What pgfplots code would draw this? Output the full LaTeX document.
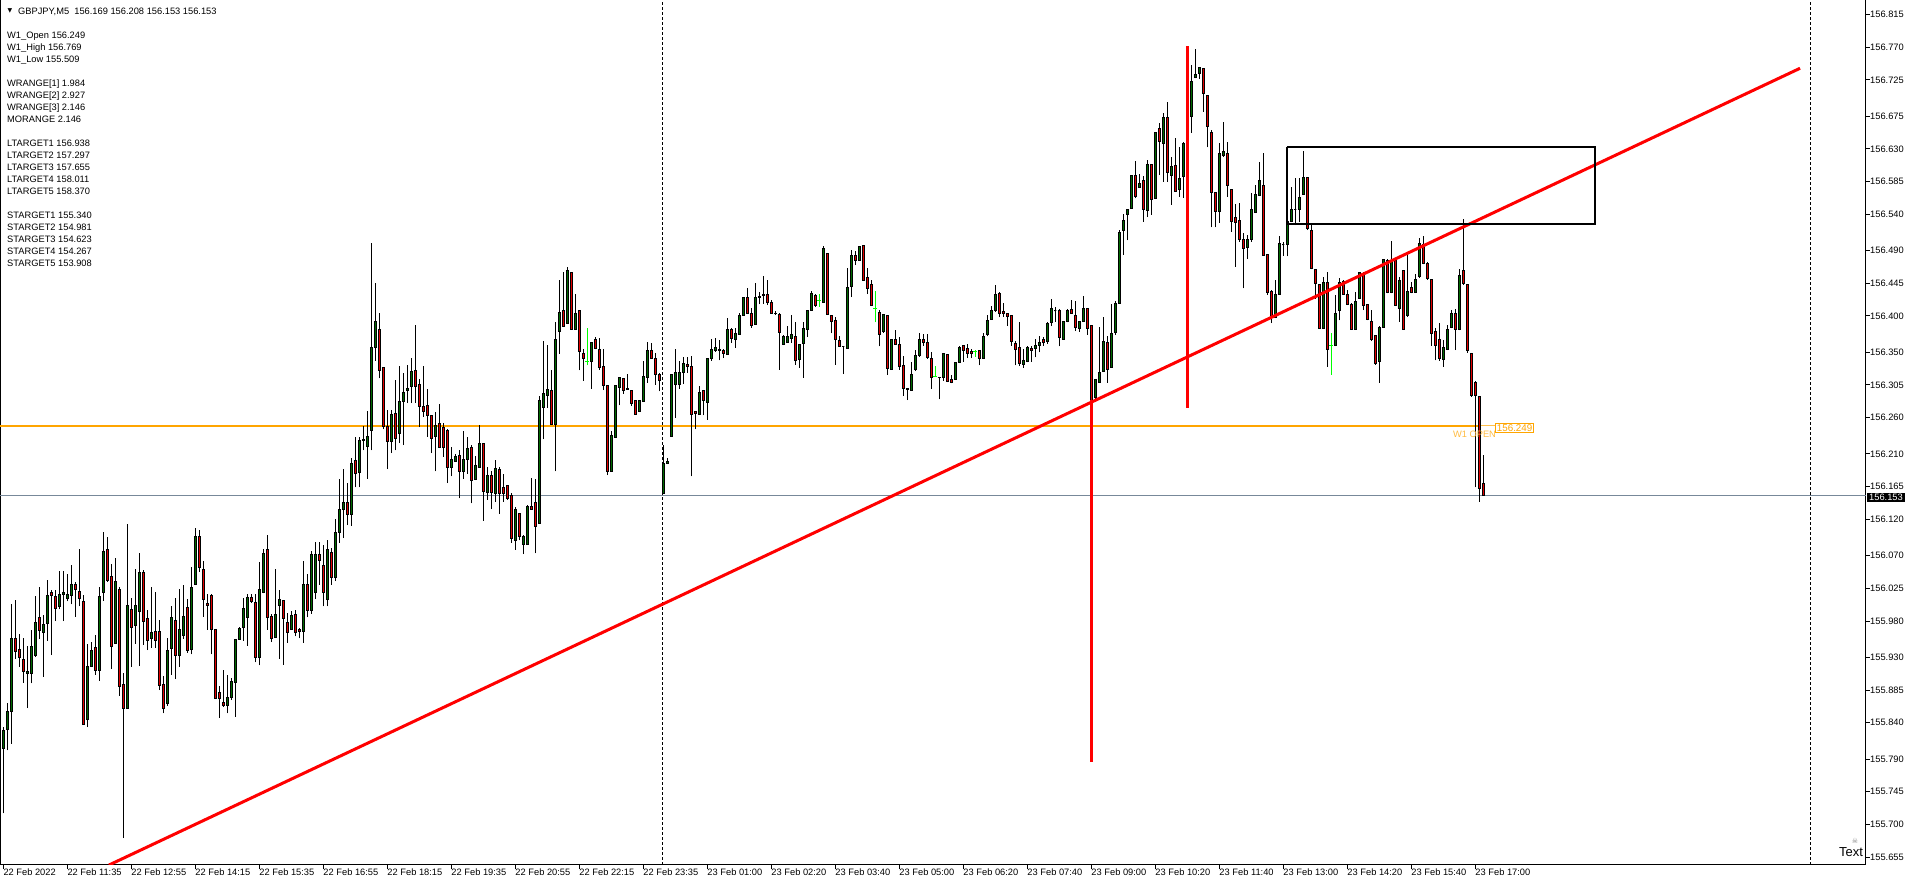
\documentclass[border=0pt]{standalone}
\usepackage{fontspec}
\setmainfont{Liberation Sans}
\newfontfamily\dejavu{DejaVu Sans}
\usepackage{pgfplots}
\usepackage{pgfplotstable}
\pgfplotsset{compat=1.18}
\definecolor{bull}{RGB}{0,105,0}
\definecolor{bear}{RGB}{225,0,0}
\definecolor{limeg}{RGB}{0,255,0}
\definecolor{wopen}{RGB}{255,165,0}
\definecolor{cur}{RGB}{119,136,153}
\newcommand\mtfont{\fontsize{9.3}{11}\selectfont}
% GBPJPY M5 candles: open high low close type (1 up, 0 down, 2 flat lime)
\pgfplotstableread{
O H L C t
155.805 155.834 155.715 155.829 1
155.831 155.867 155.802 155.856 1
155.856 156.004 155.811 155.956 1
155.956 156.009 155.928 155.938 0
155.941 155.962 155.917 155.930 0
155.927 155.956 155.895 155.910 0
155.908 155.945 155.860 155.910 1
155.908 155.968 155.894 155.945 1
155.933 156.014 155.931 155.978 1
155.985 156.027 155.955 155.967 0
155.964 155.988 155.903 155.975 1
155.977 156.037 155.953 156.015 1
156.020 156.023 155.933 156.015 0
156.014 156.023 155.980 155.997 0
156.000 156.049 155.996 156.016 1
156.016 156.049 155.980 156.019 1
156.011 156.045 156.007 156.017 1
156.015 156.057 156.003 156.030 1
156.030 156.034 155.986 156.024 0
156.021 156.079 156.000 156.011 0
156.007 156.016 155.838 155.838 0
155.844 155.948 155.834 155.918 1
155.918 155.951 155.918 155.940 1
155.944 155.961 155.906 155.912 0
155.912 156.027 155.898 156.014 1
156.019 156.102 156.008 156.076 1
156.078 156.096 156.034 156.036 0
156.042 156.059 155.914 155.945 0
155.949 156.067 155.949 156.035 1
156.024 156.027 155.877 155.890 0
155.893 155.908 155.681 155.860 0
155.860 156.113 155.860 156.001 1
155.996 156.011 155.917 155.971 0
155.974 156.051 155.949 156.002 1
155.993 156.073 155.918 156.047 1
156.047 156.050 155.947 155.979 0
155.983 155.995 155.940 155.953 0
155.956 156.027 155.943 155.964 1
155.966 156.020 155.943 155.953 0
155.966 155.981 155.885 155.891 0
155.893 155.904 155.853 155.860 0
155.867 155.956 155.863 155.940 1
155.942 156.000 155.906 155.985 1
155.981 156.012 155.900 155.933 0
155.933 156.024 155.917 155.968 1
155.960 156.030 155.955 155.986 1
155.999 156.010 155.936 155.940 0
155.941 156.055 155.934 156.026 1
156.030 156.108 156.030 156.097 1
156.097 156.105 156.048 156.054 0
156.051 156.062 155.986 156.010 0
156.004 156.017 155.968 156.002 0
156.015 156.017 155.934 155.968 0
155.968 155.968 155.873 155.874 0
155.882 155.890 155.847 155.874 0
155.868 155.912 155.862 155.864 0
155.864 155.906 155.853 155.875 1
155.875 155.901 155.871 155.897 1
155.896 155.955 155.848 155.955 1
155.955 155.972 155.954 155.970 1
155.971 156.011 155.953 155.997 1
155.985 156.017 155.946 156.013 1
156.013 156.017 156.005 156.007 0
156.006 156.017 155.923 155.930 0
155.930 156.061 155.919 156.023 1
156.020 156.079 156.018 156.073 1
156.079 156.098 155.968 155.985 0
155.986 155.989 155.951 155.956 0
155.958 156.051 155.958 155.989 1
156.001 156.023 155.928 156.010 1
156.009 156.009 155.920 155.984 0
155.978 155.991 155.950 155.964 0
155.968 155.994 155.968 155.987 1
155.989 155.995 155.959 155.964 0
155.968 155.970 155.956 155.965 0
155.965 156.063 155.950 156.030 1
156.030 156.045 155.985 155.995 0
155.995 156.077 155.990 156.072 1
156.020 156.089 156.010 156.072 1
156.072 156.089 156.030 156.064 0
156.057 156.085 156.000 156.020 0
156.010 156.091 156.000 156.079 1
156.075 156.080 156.030 156.040 0
156.040 156.121 156.035 156.102 1
156.102 156.176 156.088 156.134 1
156.134 156.189 156.094 156.143 1
156.143 156.170 156.112 156.127 0
156.127 156.204 156.111 156.197 1
156.201 156.234 156.164 156.183 0
156.185 156.234 156.164 156.229 1
156.228 156.248 156.215 156.230 1
156.221 156.269 156.176 156.234 1
156.242 156.500 156.215 156.357 1
156.357 156.445 156.338 156.393 1
156.382 156.404 156.314 156.325 0
156.329 156.330 156.244 156.248 0
156.248 156.270 156.189 156.227 0
156.227 156.271 156.211 156.264 1
156.266 156.312 156.215 156.231 0
156.238 156.331 156.225 156.282 1
156.282 156.322 156.222 156.295 1
156.298 156.332 156.280 156.300 1
156.303 156.342 156.280 156.324 1
156.325 156.388 156.280 156.303 0
156.306 156.313 156.247 156.276 0
156.276 156.331 156.261 156.268 0
156.277 156.299 156.234 156.263 0
156.263 156.264 156.211 156.231 0
156.234 156.268 156.186 156.249 1
156.252 156.279 156.218 156.219 0
156.247 156.253 156.206 156.219 0
156.243 156.244 156.170 156.192 0
156.191 156.220 156.179 156.202 1
156.199 156.210 156.199 156.207 1
156.208 156.215 156.149 156.186 0
156.186 156.242 156.176 156.203 1
156.202 156.234 156.183 156.218 1
156.219 156.222 156.142 156.173 0
156.175 156.207 156.174 156.194 1
156.192 156.250 156.192 156.225 1
156.225 156.225 156.118 156.158 0
156.157 156.192 156.147 156.180 1
156.180 156.186 156.134 156.157 0
156.156 156.202 156.144 156.190 1
156.189 156.192 156.128 156.156 0
156.164 156.183 156.144 156.156 0
156.167 156.167 156.147 156.149 0
156.153 156.156 156.088 156.094 0
156.091 156.137 156.078 156.134 1
156.128 156.128 156.091 156.096 0
156.086 156.098 156.072 156.097 1
156.086 156.140 156.085 156.138 1
156.138 156.177 156.133 156.134 0
156.143 156.176 156.073 156.110 0
156.114 156.290 156.114 156.284 1
156.274 156.365 156.230 156.293 1
156.290 156.360 156.273 156.299 1
156.298 156.326 156.250 156.250 0
156.250 156.392 156.186 156.368 1
156.378 156.449 156.348 156.405 1
156.407 156.461 156.385 156.385 0
156.390 156.468 156.390 156.462 1
156.460 156.460 156.381 156.382 0
156.382 156.430 156.381 156.404 1
156.408 156.408 156.325 156.351 0
156.349 156.355 156.311 156.341 0
156.337 156.383 156.332 156.337 2
156.338 156.364 156.300 156.364 1
156.367 156.371 156.354 156.355 0
156.354 156.369 156.326 156.329 0
156.330 156.355 156.298 156.304 0
156.305 156.305 156.181 156.186 0
156.186 156.242 156.186 156.235 1
156.233 156.305 156.233 156.305 1
156.301 156.316 156.277 156.315 1
156.314 156.314 156.293 156.297 0
156.300 156.320 156.299 156.299 0
156.298 156.298 156.276 156.280 0
156.283 156.284 156.264 156.265 0
156.268 156.284 156.268 156.283 1
156.282 156.338 156.282 156.317 1
156.316 156.364 156.308 156.353 1
156.352 156.363 156.342 156.342 0
156.342 156.349 156.305 156.320 0
156.320 156.322 156.296 156.311 0
156.156 156.223 156.156 156.197 1
156.197 156.205 156.196 156.199 1
156.234 156.319 156.234 156.319 1
156.306 156.354 156.260 156.322 1
156.306 156.338 156.300 156.322 1
156.322 156.343 156.306 156.334 1
156.333 156.344 156.322 156.330 0
156.331 156.345 156.179 156.265 0
156.269 156.269 156.244 156.266 0
156.265 156.303 156.265 156.295 1
156.298 156.298 156.263 156.284 0
156.281 156.342 156.257 156.342 1
156.341 156.368 156.338 156.354 1
156.352 156.369 156.351 156.357 1
156.354 156.367 156.339 156.353 0
156.352 156.354 156.342 156.349 0
156.347 156.397 156.347 156.382 1
156.382 156.384 156.363 156.369 0
156.368 156.384 156.356 156.376 1
156.375 156.404 156.375 156.400 1
156.401 156.426 156.401 156.426 1
156.425 156.439 156.403 156.404 0
156.404 156.411 156.384 156.387 0
156.388 156.446 156.388 156.426 1
156.426 156.433 156.416 156.427 1
156.430 156.455 156.417 156.428 0
156.430 156.450 156.415 156.418 0
156.419 156.422 156.404 156.404 0
156.404 156.407 156.401 156.403 0
156.402 156.404 156.326 156.377 0
156.361 156.374 156.360 156.372 1
156.363 156.386 156.363 156.372 1
156.369 156.401 156.363 156.375 1
156.372 156.392 156.333 156.339 0
156.340 156.361 156.329 156.361 1
156.362 156.391 156.315 156.383 1
156.382 156.407 156.371 156.407 1
156.407 156.434 156.407 156.431 1
156.428 156.430 156.413 156.414 0
156.421 156.430 156.413 156.421 2
156.418 156.496 156.418 156.493 1
156.486 156.486 156.402 156.402 0
156.401 156.401 156.376 156.393 0
156.394 156.398 156.333 156.368 0
156.366 156.372 156.358 156.358 0
156.358 156.358 156.320 156.358 1
156.355 156.466 156.355 156.439 1
156.440 156.491 156.426 156.483 1
156.483 156.490 156.470 156.476 0
156.477 156.496 156.477 156.496 1
156.497 156.497 156.449 156.449 0
156.453 156.466 156.430 156.438 0
156.444 156.449 156.414 156.414 0
156.410 156.434 156.391 156.410 2
156.405 156.408 156.358 156.375 0
156.378 156.402 156.377 156.402 1
156.401 156.401 156.319 156.328 0
156.327 156.368 156.326 156.368 1
156.367 156.381 156.361 156.361 0
156.361 156.371 156.326 156.330 0
156.332 156.345 156.290 156.300 0
156.300 156.300 156.284 156.299 0
156.298 156.337 156.297 156.320 1
156.326 156.353 156.324 156.345 1
156.345 156.376 156.344 156.368 1
156.368 156.375 156.359 156.364 0
156.364 156.375 156.341 156.343 0
156.342 156.351 156.300 156.316 0
156.316 156.331 156.316 156.316 2
156.316 156.316 156.285 156.315 0
156.315 156.349 156.311 156.349 1
156.347 156.347 156.309 156.310 0
156.313 156.319 156.307 156.309 0
156.313 156.336 156.312 156.336 1
156.336 156.358 156.335 156.357 1
156.359 156.360 156.337 156.352 0
156.355 156.361 156.342 156.348 0
156.351 156.355 156.342 156.348 0
156.351 156.353 156.344 156.351 2
156.352 156.352 156.332 156.342 0
156.342 156.376 156.342 156.372 1
156.374 156.401 156.372 156.394 1
156.395 156.414 156.395 156.408 1
156.407 156.443 156.406 156.430 1
156.431 156.433 156.398 156.404 0
156.406 156.418 156.399 156.404 0
156.404 156.404 156.386 156.399 0
156.400 156.400 156.359 156.365 0
156.362 156.365 156.332 156.354 0
156.357 156.391 156.331 156.335 0
156.333 156.355 156.329 156.339 1
156.337 156.358 156.336 156.357 1
156.355 156.358 156.337 156.352 0
156.355 156.368 156.343 156.360 1
156.359 156.372 156.350 156.364 1
156.368 156.371 156.359 156.364 0
156.365 156.391 156.362 156.390 1
156.391 156.424 156.386 156.410 1
156.407 156.413 156.392 156.407 1
156.407 156.409 156.358 156.371 0
156.368 156.393 156.368 156.393 1
156.392 156.410 156.391 156.408 1
156.409 156.422 156.403 156.404 0
156.401 156.420 156.379 156.384 0
156.383 156.393 156.378 156.393 1
156.393 156.427 156.393 156.410 1
156.410 156.410 156.374 156.383 0
156.387 156.387 156.275 156.282 0
156.288 156.312 156.286 156.312 1
156.309 156.385 156.309 156.322 1
156.323 156.398 156.323 156.365 1
156.364 156.372 156.308 156.326 0
156.329 156.417 156.329 156.376 1
156.377 156.420 156.374 156.417 1
156.417 156.518 156.417 156.515 1
156.518 156.541 156.484 156.531 1
156.540 156.547 156.504 156.546 1
156.548 156.594 156.548 156.594 1
156.594 156.614 156.562 156.564 0
156.577 156.596 156.576 156.583 1
156.586 156.592 156.530 156.546 0
156.545 156.615 156.536 156.608 1
156.608 156.608 156.539 156.560 0
156.562 156.653 156.562 156.653 1
156.658 156.665 156.594 156.640 0
156.638 156.680 156.585 156.673 1
156.673 156.695 156.585 156.597 0
156.594 156.619 156.553 156.606 1
156.607 156.645 156.571 156.571 0
156.574 156.633 156.564 156.589 1
156.592 156.639 156.563 156.637 1
156.644 156.700 156.625 156.675 1
156.675 156.745 156.652 156.723 1
156.728 156.768 156.727 156.733 1
156.734 156.742 156.726 156.742 1
156.741 156.741 156.681 156.706 0
156.704 156.704 156.632 156.661 0
156.652 156.656 156.522 156.570 0
156.570 156.570 156.522 156.544 0
156.544 156.638 156.528 156.624 1
156.621 156.667 156.619 156.627 1
156.624 156.640 156.564 156.580 0
156.574 156.574 156.516 156.530 0
156.536 156.554 156.468 156.529 0
156.531 156.555 156.502 156.506 0
156.505 156.514 156.438 156.493 0
156.494 156.511 156.479 156.505 1
156.505 156.569 156.502 156.546 1
156.543 156.580 156.543 156.567 1
156.566 156.612 156.565 156.587 1
156.579 156.624 156.483 156.483 0
156.485 156.485 156.429 156.433 0
156.434 156.436 156.390 156.399 0
156.398 156.450 156.397 156.430 1
156.429 156.510 156.429 156.500 1
156.498 156.502 156.483 156.498 1
156.498 156.530 156.482 156.530 1
156.530 156.578 156.529 156.546 1
156.547 156.590 156.525 156.547 1
156.546 156.590 156.529 156.563 1
156.567 156.627 156.567 156.590 1
156.590 156.590 156.518 156.521 0
156.518 156.525 156.464 156.466 0
156.464 156.464 156.424 156.445 0
156.444 156.444 156.383 156.383 0
156.383 156.454 156.383 156.446 1
156.446 156.461 156.330 156.354 0
156.360 156.377 156.319 156.360 2
156.360 156.429 156.359 156.404 1
156.408 156.452 156.394 156.446 1
156.447 156.450 156.429 156.430 0
156.430 156.436 156.415 156.416 0
156.416 156.418 156.381 156.382 0
156.382 156.433 156.381 156.420 1
156.424 156.461 156.423 156.460 1
156.459 156.460 156.408 156.414 0
156.416 156.417 156.394 156.395 0
156.393 156.408 156.365 156.367 0
156.373 156.373 156.333 156.335 0
156.338 156.386 156.308 156.384 1
156.384 156.479 156.384 156.478 1
156.477 156.479 156.431 156.432 0
156.432 156.503 156.431 156.477 1
156.476 156.478 156.415 156.415 0
156.411 156.454 156.392 156.449 1
156.462 156.463 156.381 156.382 0
156.400 156.484 156.399 156.434 1
156.439 156.447 156.431 156.433 0
156.433 156.458 156.432 156.450 1
156.455 156.508 156.452 156.500 1
156.498 156.510 156.471 156.472 0
156.472 156.474 156.450 156.452 0
156.450 156.450 156.359 156.376 0
156.378 156.383 156.339 156.359 0
156.368 156.390 156.338 156.342 0
156.340 156.367 156.330 156.356 1
156.354 156.388 156.353 156.382 1
156.384 156.408 156.383 156.404 1
156.403 156.409 156.353 156.382 0
156.382 156.464 156.380 156.456 1
156.463 156.534 156.443 156.445 0
156.444 156.444 156.349 156.352 0
156.349 156.349 156.289 156.290 0
156.308 156.310 156.164 156.290 0
156.289 156.289 156.144 156.163 0
156.169 156.208 156.153 156.153 0
}\candles
\pgfplotstablegetrowsof{\candles}
\pgfmathtruncatemacro\lastrow{\pgfplotsretval-1}

\begin{document}
\begin{tikzpicture}
\useasboundingbox (0pt,-20pt) rectangle (1912pt,865pt);
\begin{axis}[
  at={(0pt,0pt)}, anchor=south west,
  scale only axis, width=1866pt, height=865pt,
  xmin=-0.825, xmax=465.675, ymin=155.6441, ymax=156.835,
  axis line style={line width=1pt, black},
  tick align=outside, major tick length=4pt,
  tick style={black, line width=1pt},
  xtick pos=left, ytick pos=right, yticklabel pos=right,
  xtick={0,16,...,368},
  xticklabels={22 Feb 2022,22 Feb 11:35,22 Feb 12:55,22 Feb 14:15,22 Feb 15:35,22 Feb 16:55,22 Feb 18:15,22 Feb 19:35,22 Feb 20:55,22 Feb 22:15,22 Feb 23:35,23 Feb 01:00,23 Feb 02:20,23 Feb 03:40,23 Feb 05:00,23 Feb 06:20,23 Feb 07:40,23 Feb 09:00,23 Feb 10:20,23 Feb 11:40,23 Feb 13:00,23 Feb 14:20,23 Feb 15:40,23 Feb 17:00},
  ytick={156.815,156.770,156.725,156.675,156.630,156.585,156.540,156.490,156.445,156.400,156.350,156.305,156.260,156.210,156.165,156.120,156.070,156.025,155.980,155.930,155.885,155.840,155.790,155.745,155.700,155.655},
  scaled y ticks=false,
  yticklabel style={/pgf/number format/.cd, fixed, fixed zerofill, precision=3, assume math mode=true, /tikz/.cd, anchor=west, inner sep=0pt, font=\mtfont},
  xticklabel style={anchor=north west, inner sep=0pt, font=\mtfont},
  clip=true,
]
% horizontal levels and day separators
\addplot[cur, line width=1pt, forget plot] coordinates {(-0.825,156.153) (465.675,156.153)};
\addplot[wopen, line width=2pt, forget plot] coordinates {(-0.825,156.249) (369.2,156.249)};
\addplot[wopen!70, line width=0.8pt, forget plot] coordinates {(369.2,156.249) (373,156.249)};
\addplot[black, line width=1pt, dash pattern=on 3pt off 2pt, forget plot] coordinates {(164.7,155.6441) (164.7,156.835)};
\addplot[black, line width=1pt, dash pattern=on 3pt off 2pt, forget plot] coordinates {(451.9,155.6441) (451.9,156.835)};
% candles, one per table row, in axis coordinates
\pgfplotsforeachungrouped \i in {0,...,\lastrow}{%
  \pgfplotstablegetelem{\i}{O}\of\candles \let\vo\pgfplotsretval
  \pgfplotstablegetelem{\i}{H}\of\candles \let\vh\pgfplotsretval
  \pgfplotstablegetelem{\i}{L}\of\candles \let\vl\pgfplotsretval
  \pgfplotstablegetelem{\i}{C}\of\candles \let\vc\pgfplotsretval
  \pgfplotstablegetelem{\i}{t}\of\candles \let\vt\pgfplotsretval
  \pgfmathsetmacro\xa{\i-0.3}%
  \pgfmathsetmacro\xb{\i+0.3}%
  \pgfmathsetmacro\xc{\i-0.5}%
  \pgfmathsetmacro\xd{\i+0.5}%
  \ifnum\vt=2
    \edef\temp{\noexpand\draw[limeg, line width=1pt] (axis cs:\i,\vl) -- (axis cs:\i,\vh);
      \noexpand\draw[limeg, line width=1pt] (axis cs:\xc,\vc) -- (axis cs:\xd,\vc);}%
  \else
    \ifnum\vt=1 \def\bc{bull}\else\def\bc{bear}\fi
    \edef\temp{\noexpand\draw[black, line width=1pt] (axis cs:\i,\vl) -- (axis cs:\i,\vh);
      \noexpand\filldraw[fill=\bc, draw=black, line width=0.9pt] (axis cs:\xa,\vo) rectangle (axis cs:\xb,\vc);}%
  \fi
  \temp
}
% objects
\addplot[red, line width=3pt, forget plot] coordinates {(26.4,155.644) (449.2,156.741)};
\addplot[red, line width=3pt, forget plot] coordinates {(272,156.284) (272,155.786)};
\addplot[red, line width=3pt, forget plot] coordinates {(296,156.771) (296,156.273)};
\addplot[black, line width=1.6pt, line join=miter, forget plot] coordinates {(320.9,156.633) (397.9,156.633) (397.9,156.527) (320.9,156.527) (320.9,156.633)};
\end{axis}
% info text
\node[inner sep=0pt, font=\dejavu\fontsize{6}{6}\selectfont] at (10pt,854pt) {▼};
\node[anchor=base west, inner sep=0pt, font=\mtfont] at (18pt,850.5pt) {GBPJPY,M5\ \ 156.169 156.208 156.153 156.153};
\begin{scope}[every node/.style={anchor=base west, inner sep=0pt, font=\mtfont}]
\node at (7pt,826.5pt) {W1\_Open 156.249};
\node at (7pt,814.5pt) {W1\_High 156.769};
\node at (7pt,802.5pt) {W1\_Low 155.509};
\node at (7pt,778.5pt) {WRANGE[1] 1.984};
\node at (7pt,766.5pt) {WRANGE[2] 2.927};
\node at (7pt,754.5pt) {WRANGE[3] 2.146};
\node at (7pt,742.5pt) {MORANGE 2.146};
\node at (7pt,718.5pt) {LTARGET1 156.938};
\node at (7pt,706.5pt) {LTARGET2 157.297};
\node at (7pt,694.5pt) {LTARGET3 157.655};
\node at (7pt,682.5pt) {LTARGET4 158.011};
\node at (7pt,670.5pt) {LTARGET5 158.370};
\node at (7pt,646.5pt) {STARGET1 155.340};
\node at (7pt,634.5pt) {STARGET2 154.981};
\node at (7pt,622.5pt) {STARGET3 154.623};
\node at (7pt,610.5pt) {STARGET4 154.267};
\node at (7pt,598.5pt) {STARGET5 153.908};
\end{scope}
% labels on the price scale and the chart
\node[anchor=west, fill=black, text=white, inner xsep=2pt, inner ysep=1.5pt, font=\mtfont] at (1867pt,367.5pt) {156.153};
\node[anchor=west, draw=wopen, line width=0.8pt, fill=white, text=wopen, inner xsep=1.5pt, inner ysep=0.8pt, font=\fontsize{9.8}{10}\selectfont] at (1495pt,437pt) {156.249};
\node[text=wopen!75, inner sep=0pt, font=\mtfont] at (1474.5pt,431pt) {W1 OPEN};
\node[anchor=base west, inner sep=0pt, font=\fontsize{13}{13}\selectfont] at (1839pt,8pt) {Text};
\node[inner sep=0pt, text=gray, font=\dejavu\fontsize{7}{7}\selectfont] at (1855pt,24pt) {☠};
\end{tikzpicture}
\end{document}
